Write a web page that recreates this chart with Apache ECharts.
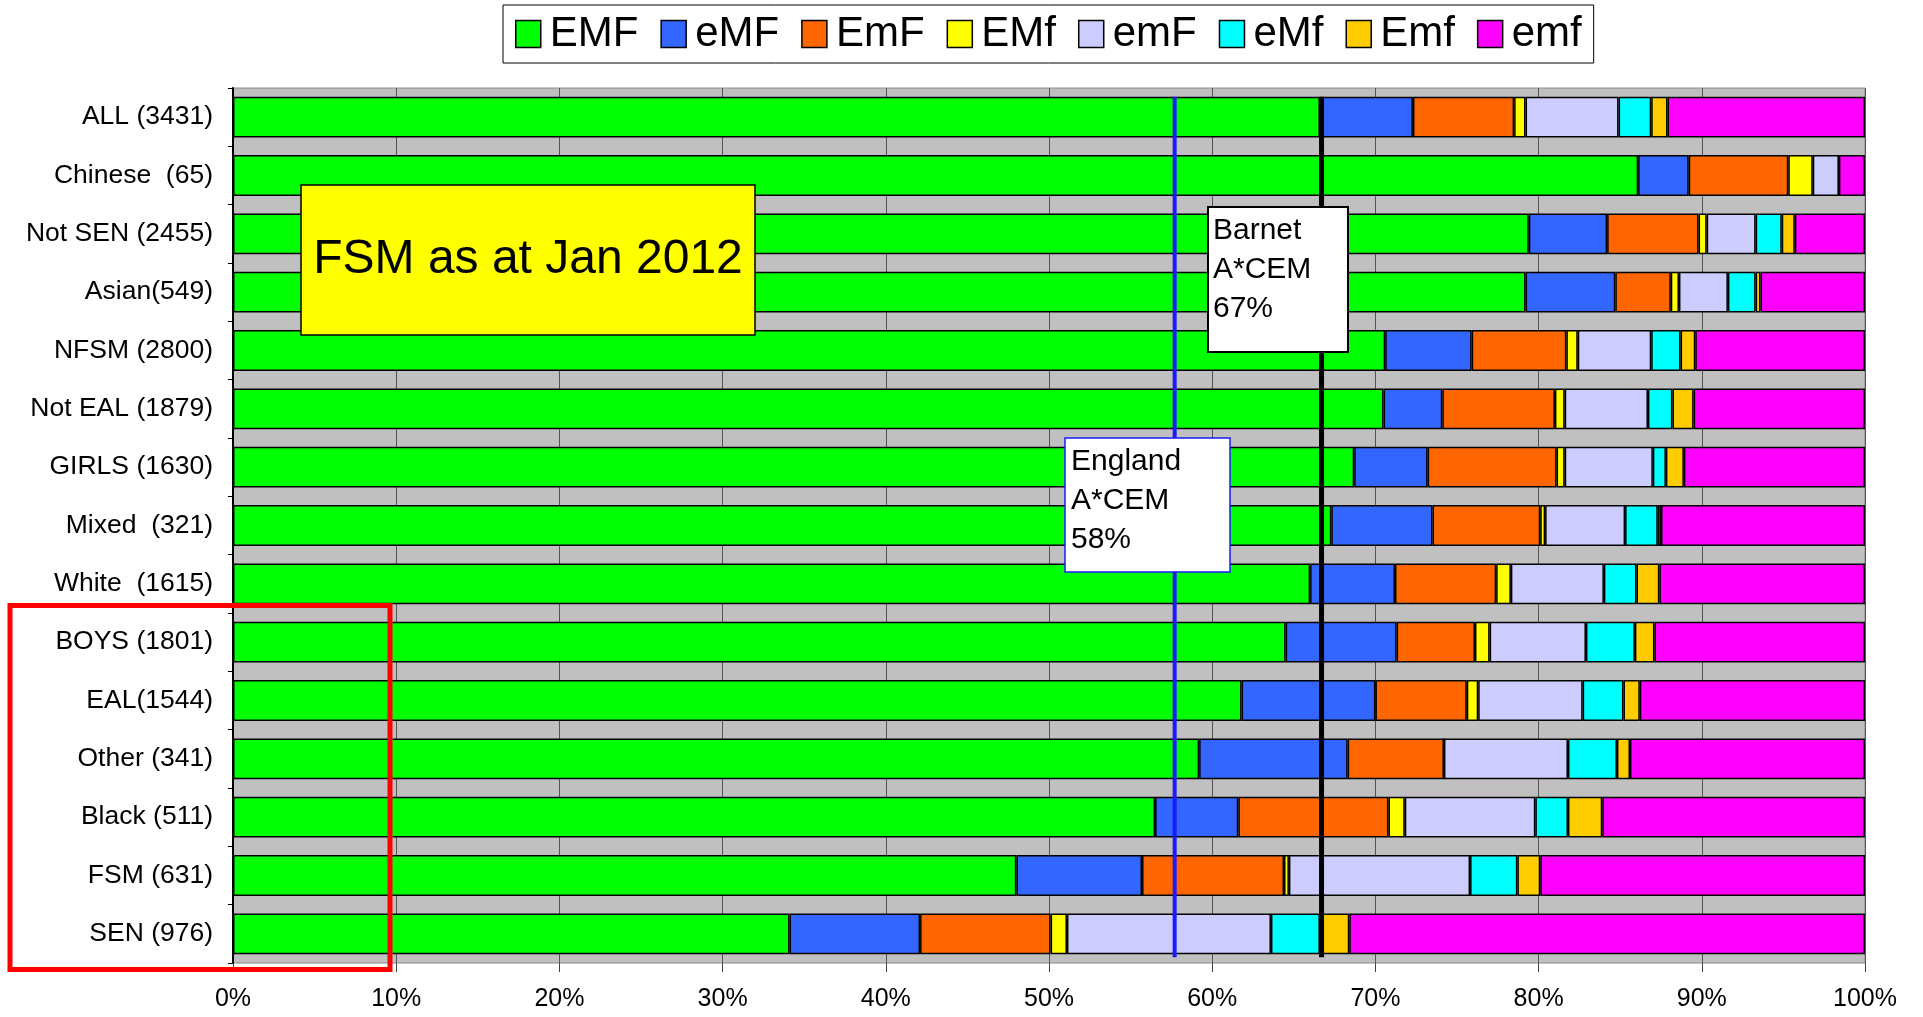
<!DOCTYPE html>
<html>
<head>
<meta charset="utf-8">
<title>A*CEM breakdown</title>
<script src="https://cdn.jsdelivr.net/npm/echarts@6/dist/echarts.min.js"></script>
<style>
  html, body { margin: 0; padding: 0; background: #fff; }
  #main { width: 1923px; height: 1017px; }
</style>
</head>
<body>
<div id="main"></div>
<script>
// categories, top to bottom
const groups = ['ALL (3431)', 'Chinese  (65)', 'Not SEN (2455)', 'Asian(549)', 'NFSM (2800)',
  'Not EAL (1879)', 'GIRLS (1630)', 'Mixed  (321)', 'White  (1615)', 'BOYS (1801)',
  'EAL(1544)', 'Other (341)', 'Black (511)', 'FSM (631)', 'SEN (976)'];

// percentage share of each outcome, same order as groups
const EMF = [66.6, 86.1, 79.4, 79.2, 70.6, 70.5, 68.7, 67.3, 66.0, 64.5, 61.8, 59.2, 56.5, 48.0, 34.1];
const eMF = [5.7, 3.1, 4.8, 5.5, 5.3, 3.6, 4.5, 6.2, 5.2, 6.8, 8.2, 9.1, 5.1, 7.7, 8.0];
const EmF = [6.2, 6.1, 5.6, 3.4, 5.8, 6.9, 7.9, 6.6, 6.2, 4.8, 5.6, 5.9, 9.2, 8.7, 8.0];
const EMf = [0.7, 1.5, 0.5, 0.5, 0.7, 0.6, 0.5, 0.3, 0.9, 0.9, 0.7, 0.0, 1.0, 0.3, 1.0];
const emF = [5.7, 1.6, 3.0, 3.0, 4.5, 5.1, 5.4, 4.9, 5.7, 5.9, 6.4, 7.6, 8.0, 11.1, 12.5];
const eMf = [2.0, 0.0, 1.6, 1.7, 1.8, 1.5, 0.8, 2.0, 2.0, 3.0, 2.5, 3.0, 2.0, 2.9, 3.0];
const Emf = [1.0, 0.0, 0.8, 0.3, 0.9, 1.3, 1.1, 0.2, 1.4, 1.2, 1.0, 0.8, 2.1, 1.4, 1.8];
const emf = [12.1, 1.6, 4.3, 6.4, 10.4, 10.5, 11.1, 12.5, 12.6, 12.9, 13.8, 14.4, 16.1, 19.9, 31.6];

const seriesNames = ['EMF', 'eMF', 'EmF', 'EMf', 'emF', 'eMf', 'Emf', 'emf'];
const seriesData = [EMF, eMF, EmF, EMf, emF, eMf, Emf, emf];
const colors = ['#00ff00', '#3366ff', '#ff6600', '#ffff00', '#ccccff', '#00ffff', '#ffcc00', '#ff00ff'];

// reference lines: England and Barnet A*CEM
const refValues = [57.7, 66.7];
const refColors = ['#1a1aff', '#000000'];
const xTicks = [0, 10, 20, 30, 40, 50, 60, 70, 80, 90, 100];

const font = '"Liberation Sans", Arial, sans-serif';
const myChart = echarts.init(document.getElementById('main'));

const barSeries = seriesNames.map((name, i) => ({
  name: name,
  type: 'bar',
  stack: 'total',
  barCategoryGap: '30%',
  data: seriesData[i],
  itemStyle: { color: colors[i], borderColor: '#000', borderWidth: 1.5 },
  emphasis: { disabled: true }
}));

// the two vertical reference lines, drawn from the top of the first bar to the bottom of the last
const refSeries = {
  type: 'custom',
  silent: true,
  z: 10,
  data: refValues.map((v, i) => [v, i]),
  renderItem: (params, api) => {
    const v = api.value(0);
    const idx = api.value(1);
    const band = api.size([0, 1])[1];
    const x = api.coord([v, 0])[0];
    const top = api.coord([v, 0])[1] - band * 0.35;
    const bottom = api.coord([v, groups.length - 1])[1] + band * 0.35 + 3;
    return {
      type: 'line',
      shape: { x1: x, y1: top, x2: x, y2: bottom },
      style: { stroke: refColors[idx], lineWidth: idx === 0 ? 4 : 5 }
    };
  }
};

// annotation boxes sit on a layer above the bars
const box = (x, y, w, h, fill, stroke, lw) => ({
  type: 'rect', zlevel: 1, z: 100,
  shape: { x: x, y: y, width: w, height: h },
  style: { fill: fill, stroke: stroke, lineWidth: lw }
});
const label = (x, y, text, size, extra) => ({
  type: 'text', zlevel: 1, z: 101, x: x, y: y,
  style: Object.assign({ text: text, font: size + 'px ' + font, fill: '#000' }, extra || {})
});

myChart.setOption({
  animation: false,
  textStyle: { fontFamily: font },
  legend: {
    data: seriesNames,
    left: 503,
    top: 5,
    padding: [8, 12, 8, 12],
    itemGap: 22,
    itemWidth: 25,
    itemHeight: 27,
    icon: 'rect',
    borderColor: '#000',
    borderWidth: 1,
    backgroundColor: '#fff',
    itemStyle: { borderColor: '#000', borderWidth: 1.5 },
    textStyle: { fontSize: 42, color: '#000', fontFamily: font, padding: [0, 0, 0, 4] },
    selectedMode: false
  },
  grid: {
    left: 233, right: 58, top: 88, bottom: 54,
    show: true,
    backgroundColor: '#c0c0c0',
    borderColor: '#888',
    borderWidth: 1
  },
  xAxis: {
    type: 'value',
    min: 0,
    max: 100,
    interval: 10,
    axisLine: { show: false },
    axisTick: { show: true, length: 9, lineStyle: { color: '#444' } },
    splitLine: { show: true, lineStyle: { color: '#555', width: 1 } },
    axisLabel: {
      formatter: v => xTicks.includes(v) ? v + '%' : '',
      fontSize: 25, color: '#000', margin: 24, fontFamily: font
    }
  },
  yAxis: {
    type: 'category',
    inverse: true,
    data: groups,
    axisLine: { show: true, lineStyle: { color: '#000', width: 2 } },
    axisTick: { show: true, length: 5, lineStyle: { color: '#000' } },
    axisLabel: { fontSize: 26.5, color: '#000', margin: 20, fontFamily: font }
  },
  series: [...barSeries, refSeries],
  graphic: [
    box(301, 185, 454, 150, '#ffff00', '#000', 1.5),
    label(528, 260, 'FSM as at Jan 2012', 48, { align: 'center', verticalAlign: 'middle' }),
    box(1208, 207, 140, 145, '#fff', '#000', 2),
    label(1213, 211, 'Barnet\nA*CEM\n67%', 30, { lineHeight: 39 }),
    box(1065, 438, 165, 134, '#fff', '#1a1aff', 1.5),
    label(1071, 442, 'England\nA*CEM\n58%', 30, { lineHeight: 39 }),
    box(10, 605.5, 380, 364, 'none', '#ff0000', 5)
  ]
});
</script>
</body>
</html>
